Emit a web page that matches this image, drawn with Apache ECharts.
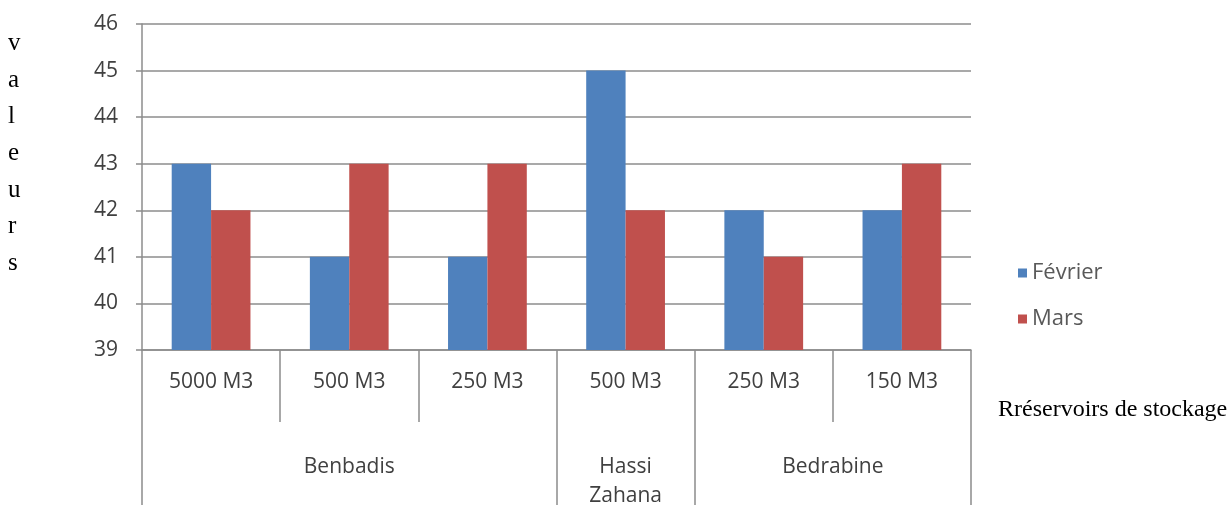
<!DOCTYPE html>
<html>
<head>
<meta charset="utf-8">
<script src="https://cdn.jsdelivr.net/npm/echarts@6/dist/echarts.min.js"></script>
<style>
html,body{margin:0;padding:0;background:#fff;}
#chart{width:1231px;height:505px;}
</style>
</head>
<body>
<div id="chart"></div>
<script>
const categories = ['5000 M3', '500 M3', '250 M3', '500 M3', '250 M3', '150 M3'];
const groupLabels = ['', '', '', 'Benbadis', '', '', '', 'Hassi\nZahana', '', '', 'Bedrabine', '', ''];
const groupBoundaryIdx = [0, 6, 8, 12];
const fevrier = [43, 41, 41, 45, 42, 42];
const mars = [42, 43, 43, 42, 41, 43];
const seriesNames = ['Février', 'Mars'];
const yAxisTitle = 'valeurs';
const xAxisTitle = 'Rréservoirs de stockage';

const gridColor = '#8c8c8c';
const textColor = '#404040';
const sansFont = '"Open Sans", sans-serif';
const serifFont = '"Liberation Serif", "DejaVu Serif", serif';

const chart = echarts.init(document.getElementById('chart'));
chart.setOption({
  animation: false,
  backgroundColor: '#ffffff',
  grid: {left: 142, right: 260, top: 24, bottom: 155, containLabel: false, outerBoundsMode: 'none'},
  legend: {
    orient: 'vertical',
    left: 1013,
    top: 257,
    itemWidth: 9,
    itemHeight: 9,
    itemGap: 24,
    icon: 'rect',
    textStyle: {fontFamily: sansFont, fontSize: 22, color: '#595959'},
    data: seriesNames
  },
  xAxis: [
    {
      type: 'category',
      data: categories,
      position: 'bottom',
      axisLine: {show: true, lineStyle: {color: gridColor, width: 1.5}},
      axisTick: {show: true, length: 72, interval: 0, lineStyle: {color: gridColor, width: 1.5}},
      axisLabel: {interval: 0, margin: 22, fontFamily: sansFont, fontSize: 21, color: textColor},
      splitLine: {show: false}
    },
    {
      type: 'category',
      data: groupLabels,
      position: 'bottom',
      boundaryGap: false,
      axisLine: {show: false},
      axisTick: {
        show: true,
        length: 160,
        interval: function (idx) { return groupBoundaryIdx.indexOf(idx) >= 0; },
        lineStyle: {color: gridColor, width: 1.5}
      },
      axisLabel: {interval: 0, margin: 103, fontFamily: sansFont, fontSize: 21, lineHeight: 29, color: textColor},
      splitLine: {show: false}
    }
  ],
  yAxis: {
    type: 'value',
    min: 39,
    max: 46,
    interval: 1,
    axisLine: {show: true, lineStyle: {color: gridColor, width: 1.5}},
    axisTick: {show: true, length: 6, lineStyle: {color: gridColor, width: 1.5}},
    axisLabel: {margin: 24, fontFamily: sansFont, fontSize: 21, color: textColor},
    splitLine: {show: true, lineStyle: {color: gridColor, width: 1.5}}
  },
  series: [
    {name: seriesNames[0], type: 'bar', data: fevrier, barGap: '0%', barCategoryGap: '43%', itemStyle: {color: '#4f81bd'}},
    {name: seriesNames[1], type: 'bar', data: mars, barGap: '0%', barCategoryGap: '43%', itemStyle: {color: '#c0504d'}}
  ],
  graphic: [
    {
      type: 'text',
      left: 8,
      top: 25,
      style: {
        text: yAxisTitle.split('').join('\n'),
        font: '25px ' + serifFont,
        lineHeight: 36.7,
        fill: '#000000'
      }
    },
    {
      type: 'text',
      left: 998,
      top: 398,
      style: {
        text: xAxisTitle,
        font: '24px ' + serifFont,
        fill: '#000000'
      }
    }
  ]
});
</script>
</body>
</html>
